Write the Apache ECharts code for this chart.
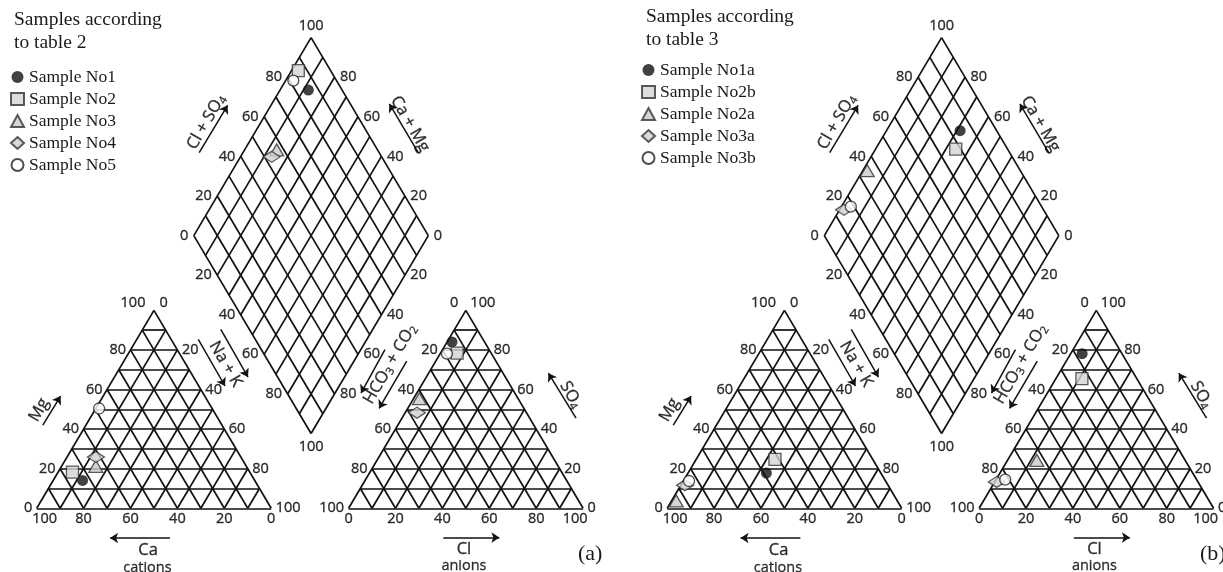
<!DOCTYPE html>
<html><head><meta charset="utf-8">
<script src="https://cdn.jsdelivr.net/npm/echarts@6/dist/echarts.min.js"></script>
<style>html,body{margin:0;padding:0;background:#fff}#c{width:1223px;height:572px}</style>
</head><body><div id="c"></div>
<script>
// ================= DATA (percent of meq) =================
const samplesA = ['Sample No1','Sample No2','Sample No3','Sample No4','Sample No5'];
const samplesB = ['Sample No1a','Sample No2b','Sample No2a','Sample No3a','Sample No3b'];
// cation triangle: [Ca, Mg, Na+K]
const cationsA = [[73.4,14.1,12.5],[75.6,18.3,6.1],[64.2,21.2,14.6],[61.8,25.9,12.3],[48.2,50.4,1.4]];
const cationsB = [[48.8,17.8,33.4],[41.7,24.7,33.6],[94.3,3.7,2.0],[86.6,11.6,1.8],[83.8,13.8,2.4]];
// anion triangle: [HCO3+CO2, Cl, SO4]
const anionsA = [[13.9,2.1,84.0],[14.5,7.1,78.4],[42.1,2.5,55.4],[46.7,5.0,48.3],[19.0,2.9,78.1]];
const anionsB = [[17.0,4.9,78.1],[23.4,11.1,65.5],[63.3,12.5,24.2],[85.8,0.9,13.3],[81.6,3.9,14.5]];
// diamond: [Cl+SO4, Na+K]
const diamondA = [[85.6,12.1],[86.2,2.9],[57.0,13.7],[53.1,13.3],[81.6,3.3]];
const diamondB = [[84.4,31.4],[77.9,34.2],[34.7,1.9],[14.9,1.9],[18.6,4.0]];
const tickValues = [0,20,40,60,80,100];
const headers = ['Samples according\nto table 2','Samples according\nto table 3'];
const panelTags = ['(a)','(b)'];

// ================= LAYOUT =================
const SX = 2.345, SY = 2.286;               // px per diagram unit
const PANEL_ORIGIN = [[36.7,508.3],[667.2,508.3]];
const PANEL_SPAN = [[0,612],[612,1223]];
const GAP = 33, DCX = 117, DCY = 119.3, H = Math.sqrt(3)/2;
function cat(ca, mg, na){ return [na + 0.5*mg, H*mg]; }
function an(hc, cl, so){ return [100 + GAP + cl + 0.5*so, H*so]; }
function dia(a, n){ return [DCX - 50 + 0.5*(a+n), DCY + H*(a-n)]; }

const SANS = 'Open Sans', SERIF = 'Liberation Serif';
const SYMBOLS = [
  {symbol:'circle', symbolSize:11, itemStyle:{color:'#111'}},
  {symbol:'rect', symbolSize:12, itemStyle:{color:'#d4d4d4', borderColor:'#333', borderWidth:1.3}},
  {symbol:'triangle', symbolSize:[14,12], itemStyle:{color:'#cbcbcb', borderColor:'#333', borderWidth:1.3}},
  {symbol:'diamond', symbolSize:[17,11], itemStyle:{color:'#d0d0d0', borderColor:'#333', borderWidth:1.3}},
  {symbol:'circle', symbolSize:11, itemStyle:{color:'#fff', borderColor:'#222', borderWidth:1.3}}
];

const AXIS_TITLES = [
  {t:'{n|Cl + SO}{s|4}', p:[72.3,169.0], r:60},
  {t:'{n|Ca + Mg}', p:[159.2,168.1], r:-60},
  {t:'{n|Na + K}', p:[80.5,63.1], r:-60},
  {t:'{n|HCO}{s|3}{n| + CO}{s|2}', p:[150.7,63.1], r:60},
  {t:'{n|Mg}', p:[1.0,43.0], r:60},
  {t:'{n|SO}{s|4}', p:[227.8,49.6], r:-60},
  {t:'{n|Ca}', p:[47.5,-18.3], r:0},
  {t:'{m|cations}', p:[47.2,-26.1], r:0},
  {t:'{n|Cl}', p:[182.2,-17.8], r:0},
  {t:'{m|anions}', p:[182.2,-25.4], r:0}
];
const ARROWS = [
  [[69.3,155.6],[81.4,176.3]],
  [[162.7,155.6],[150.4,176.9]],
  [[68.9,73.9],[80.3,53.5]],
  [[78.5,78.3],[90.1,57.4]],
  [[148.5,69.4],[138.3,50.4]],
  [[157.8,64.4],[146.0,43.7]],
  [[2.6,36.4],[10.2,49.1]],
  [[230.0,39.4],[218.2,59.1]],
  [[56.8,-13.0],[31.3,-13.0]],
  [[173.4,-12.8],[197.3,-12.8]]
];

function gridSegments(){
  const s = [];
  for (let t = 0; t <= 100; t += 10){
    s.push([cat(100-t,t,0), cat(0,t,100-t)]);
    s.push([cat(t,0,100-t), cat(t,100-t,0)]);
    s.push([cat(100-t,0,t), cat(0,100-t,t)]);
    s.push([an(100-t,0,t), an(0,100-t,t)]);
    s.push([an(t,100-t,0), an(t,0,100-t)]);
    s.push([an(100-t,t,0), an(0,t,100-t)]);
    s.push([dia(t,0), dia(t,100)]);
    s.push([dia(0,t), dia(100,t)]);
  }
  return s.filter(g => Math.hypot(g[0][0]-g[1][0], g[0][1]-g[1][1]) > 0.01);
}

function tickItems(){
  const L = [];
  tickValues.forEach(v => {
    L.push({t:String(v), p:cat(v,0,100-v), pos:'bottom', d:3, o: v===100?[8,0]:[0,0]});
    L.push({t:String(v), p:an(100-v,v,0), pos:'bottom', d:3, o: v===100?[-8,0]:[0,0]});
  });
  [0,20,40,60,80].forEach(v => {
    L.push({t:String(v), p:cat(100-v,v,0), pos:'left', d:4});
    L.push({t:String(v), p:an(0,100-v,v), pos:'right', d:4});
    L.push({t:String(v), p:dia(v,0), pos:'left', d:5});
  });
  [20,40,60,80,100].forEach(v => {
    L.push({t:String(v), p:cat(0,100-v,v), pos:'right', d:4});
    L.push({t:String(v), p:an(v,0,100-v), pos:'left', d:4});
    L.push({t:String(100-v), p:dia(100,v), pos:'right', d:5});
  });
  [20,40,60,80].forEach(v => {
    L.push({t:String(v), p:dia(0,v), pos:'left', d:5});
    L.push({t:String(100-v), p:dia(v,100), pos:'right', d:5});
  });
  L.push({t:'100', p:dia(100,0), pos:'top', d:4});
  L.push({t:'100', p:dia(0,100), pos:'bottom', d:5});
  L.push({t:'100', p:cat(0,100,0), pos:'left', d:8, o:[0,-7]});
  L.push({t:'0', p:cat(0,100,0), pos:'right', d:5, o:[0,-7]});
  L.push({t:'0', p:an(0,0,100), pos:'left', d:7, o:[0,-7]});
  L.push({t:'100', p:an(0,0,100), pos:'right', d:4, o:[0,-7]});
  return L;
}

const option = {
  animation:false, backgroundColor:'#fff',
  title:[], legend:[], grid:[], xAxis:[], yAxis:[], series:[]
};

const panels = [
  {names:samplesA, cat:cationsA, an:anionsA, dia:diamondA, head:[14,9], leg:[10,68], tag:[578,543]},
  {names:samplesB, cat:cationsB, an:anionsB, dia:diamondB, head:[646,6], leg:[641,61], tag:[1200,543]}
];

const INK = '#000';
panels.forEach((P, pi) => {
  const [ox, oy] = PANEL_ORIGIN[pi];
  const [l, r] = PANEL_SPAN[pi];
  option.grid.push({left:l, top:0, width:r-l, height:572, show:false});
  option.xAxis.push({type:'value', gridIndex:pi, min:(l-ox)/SX, max:(r-ox)/SX, show:false});
  option.yAxis.push({type:'value', gridIndex:pi, min:(oy-572)/SY, max:oy/SY, show:false});

  option.title.push({text:headers[pi], left:P.head[0], top:P.head[1], padding:0,
    textStyle:{fontFamily:SERIF, fontSize:19.5, fontWeight:'normal', color:'#1a1a1a', lineHeight:22.5}});
  option.title.push({text:panelTags[pi], left:P.tag[0], top:P.tag[1], padding:0,
    textStyle:{fontFamily:SERIF, fontSize:22, fontWeight:'normal', color:'#1a1a1a'}});

  option.legend.push({data:P.names, orient:'vertical', left:P.leg[0], top:P.leg[1], padding:0,
    itemWidth:13, itemHeight:12, itemGap:4, selectedMode:false,
    textStyle:{fontFamily:SERIF, fontSize:17.5, color:'#1a1a1a', lineHeight:18}});

  option.series.push({type:'lines', name:'grid'+pi, coordinateSystem:'cartesian2d', xAxisIndex:pi, yAxisIndex:pi,
    silent:true, z:1, polyline:false, symbol:'none',
    lineStyle:{color:'#111', width:1.7, opacity:1},
    data:gridSegments().map(c => ({coords:c}))});

  option.series.push({type:'lines', name:'arrows'+pi, coordinateSystem:'cartesian2d', xAxisIndex:pi, yAxisIndex:pi,
    silent:true, z:2, polyline:false, symbol:['none','arrow'], symbolSize:8,
    lineStyle:{color:'#111', width:1.5, opacity:1},
    data:ARROWS.map(c => ({coords:c}))});

  option.series.push({type:'scatter', name:'ticks'+pi, xAxisIndex:pi, yAxisIndex:pi, silent:true, z:3,
    symbol:'circle', symbolSize:1, itemStyle:{color:'rgba(0,0,0,0)'},
    label:{show:true, fontFamily:SANS, fontSize:14.5, color:INK, textBorderColor:INK, textBorderWidth:0.35},
    data:tickItems().map(it => ({value:it.p, label:{show:true, formatter:it.t, position:it.pos, distance:it.d, offset:it.o||[0,0]}}))});

  option.series.push({type:'scatter', name:'titles'+pi, xAxisIndex:pi, yAxisIndex:pi, silent:true, z:3,
    symbol:'circle', symbolSize:1, itemStyle:{color:'rgba(0,0,0,0)'},
    data:AXIS_TITLES.map(it => ({value:it.p, label:{show:true, formatter:it.t, position:'inside', rotate:it.r,
      align:'center', verticalAlign:'middle',
      rich:{n:{fontFamily:SANS, fontSize:16.5, color:INK, lineHeight:19, textBorderColor:INK, textBorderWidth:0.35},
            m:{fontFamily:SANS, fontSize:14.5, color:INK, lineHeight:17, textBorderColor:INK, textBorderWidth:0.3},
            s:{fontFamily:SANS, fontSize:11, color:INK, lineHeight:10, verticalAlign:'bottom', textBorderColor:INK, textBorderWidth:0.3}}}}))});

  P.names.forEach((nm, i) => {
    option.series.push(Object.assign({type:'scatter', name:nm, xAxisIndex:pi, yAxisIndex:pi, z:5,
      emphasis:{disabled:true},
      data:[cat(...P.cat[i]), an(...P.an[i]), dia(...P.dia[i])]}, SYMBOLS[i]));
  });
});

const chart = echarts.init(document.getElementById('c'), null, {renderer:'canvas'});
chart.setOption(option);
</script>
</body></html>
